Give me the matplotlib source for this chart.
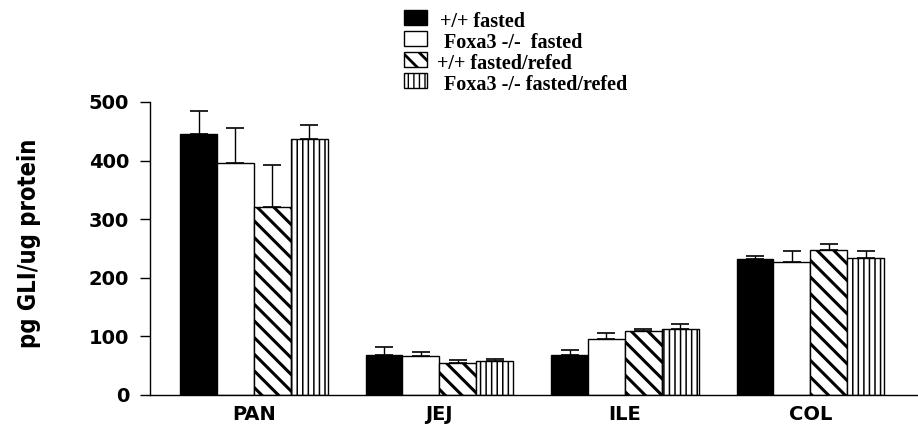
import matplotlib
matplotlib.use("Agg")
import matplotlib.pyplot as plt
import numpy as np
from matplotlib.patches import Rectangle

categories = ["PAN", "JEJ", "ILE", "COL"]
series = ["+/+ fasted", "Foxa3 -/-  fasted", "+/+ fasted/refed", "Foxa3 -/- fasted/refed"]
means = {
    "+/+ fasted":            [446, 69, 69, 232],
    "Foxa3 -/-  fasted":     [396, 67, 95, 227],
    "+/+ fasted/refed":      [321, 55, 109, 248],
    "Foxa3 -/- fasted/refed": [437, 58, 112, 233],
}
errors = {
    "+/+ fasted":            [38, 13, 8, 6],
    "Foxa3 -/-  fasted":     [59, 6, 10, 18],
    "+/+ fasted/refed":      [72, 4, 3, 10],
    "Foxa3 -/- fasted/refed": [24, 4, 10, 13],
}
yticks = [0, 100, 200, 300, 400, 500]

styles = [
    dict(facecolor="black", hatch=None),
    dict(facecolor="white", hatch=None),
    dict(facecolor="white", hatch="\\\\"),
    dict(facecolor="white", hatch="|||"),
]
hatch_lw = [1, 1, 2.2, 1.1]

W, H = 918, 426
fig = plt.figure(figsize=(W/100, H/100), dpi=100)
ax = fig.add_axes([150/W, 1-395/H, (917-150)/W, (395-102)/H])

x = np.arange(len(categories))
w = 37/186
for i, s in enumerate(series):
    with plt.rc_context({"hatch.linewidth": hatch_lw[i], "hatch.color": "black"}):
        bars = ax.bar(x + (i-1.5)*w, means[s], width=w, edgecolor="black",
                      linewidth=1.0, **styles[i], zorder=2)
        for b in bars:
            if hasattr(b, "set_hatch_linewidth"):
                b.set_hatch_linewidth(hatch_lw[i])
    ax.errorbar(x + (i-1.5)*w, means[s], yerr=[np.zeros(4), errors[s]], fmt="none",
                ecolor="black", elinewidth=1.0, capsize=6.5, capthick=1.2, zorder=1)

ax.set_xlim(-0.56, 3.575)
ax.set_ylim(0, 500)
ax.set_yticks(yticks)
ax.set_yticklabels([str(t) for t in yticks], fontsize=14, fontweight="heavy",
                   family="DejaVu Sans")
ax.set_xticks(x)
ax.set_xticklabels(categories, fontsize=14, fontweight="heavy", family="DejaVu Sans")
ax.tick_params(axis="x", length=0, pad=7)
ax.tick_params(axis="y", length=7, width=1, pad=8)
for sp in ["top", "right"]:
    ax.spines[sp].set_visible(False)
for sp in ["left", "bottom"]:
    ax.spines[sp].set_linewidth(1.0)

fig.text(29/W, 1-243/H, "pg GLI/ug protein", rotation=90, ha="center", va="center",
         fontsize=17, fontweight="bold", family="DejaVu Sans", fontstretch="condensed")

# legend drawn manually to mimic the tight stacked key
baselines = [27, 48, 69, 90]
text_x = [440, 444, 437, 444]
for i, s in enumerate(series):
    yb = baselines[i]
    with plt.rc_context({"hatch.linewidth": 2.0, "hatch.color": "black"}):
        r = Rectangle((404/W, 1-(yb-2)/H), 23/W, 15/H, transform=fig.transFigure,
                      facecolor=styles[i]["facecolor"], edgecolor="black", linewidth=1.0,
                      hatch=styles[i]["hatch"])
        if hasattr(r, "set_hatch_linewidth"):
            r.set_hatch_linewidth(2.0 if i == 2 else 1.0)
        fig.add_artist(r)
    fig.text(text_x[i]/W, 1-yb/H, s, ha="left", va="baseline", fontsize=14.5,
             fontweight="bold", family="Liberation Serif")

fig.savefig("out.png", dpi=100)
